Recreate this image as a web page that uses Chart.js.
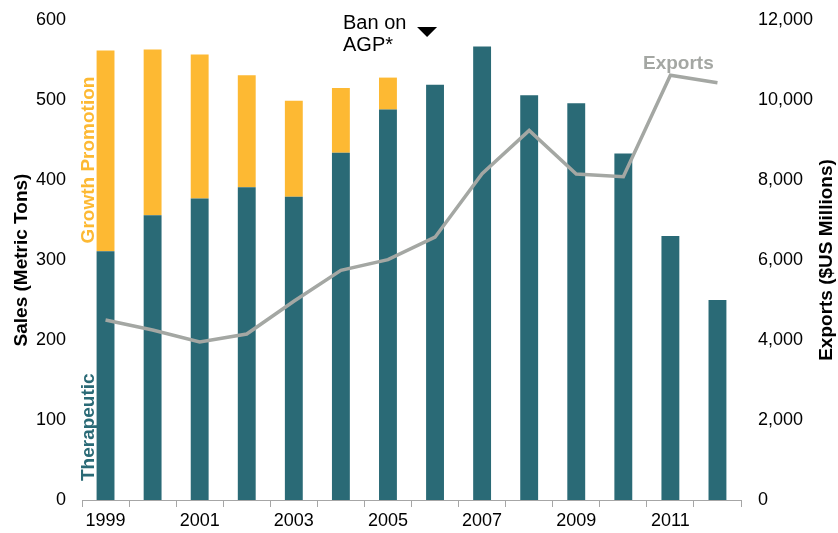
<!DOCTYPE html>
<html>
<head>
<meta charset="utf-8">
<script src="https://cdn.jsdelivr.net/npm/chart.js@4"></script>
<style>
  html, body { margin: 0; padding: 0; background: #ffffff; }
  #wrap { width: 838px; height: 533px; position: relative; }
</style>
</head>
<body>
<div id="wrap"><canvas id="c" width="838" height="533"></canvas></div>
<script>
// ---- data ----
const categories = ['1999','2000','2001','2002','2003','2004','2005','2006','2007','2008','2009','2010','2011','2012'];
const therapeutic = [311, 356, 377, 391, 379, 434, 488, 519, 567, 506, 496, 433, 330, 250];
const growthPromotion = [251, 207, 180, 140, 120, 81, 40, 0, 0, 0, 0, 0, 0, 0];
const exportsUSD = [4500, 4250, 3950, 4150, 4970, 5740, 6010, 6570, 8160, 9240, 8150, 8080, 10620, 10430];
const yearTickLabels = ['1999','2001','2003','2005','2007','2009','2011'];
const salesTicks = [0, 100, 200, 300, 400, 500, 600];
const exportTicks = [0, 2000, 4000, 6000, 8000, 10000, 12000];

const TEAL = '#2A6A76';
const GOLD = '#FDB933';
const GREY = '#A4A7A3';
const FONT = 'Liberation Sans, Arial, Helvetica, sans-serif';

const labelsPlugin = {
  id: 'labelsPlugin',
  afterDraw(chart) {
    const ctx = chart.ctx;
    const xS = chart.scales.x, yS = chart.scales.y, ca = chart.chartArea;
    const midY = (ca.top + ca.bottom) / 2;
    ctx.save();
    ctx.font = 'bold 19px ' + FONT;
    ctx.fillStyle = '#000000';
    ctx.textAlign = 'center';
    ctx.textBaseline = 'alphabetic';
    ctx.save(); ctx.translate(27, midY); ctx.rotate(-Math.PI / 2);
    ctx.fillText('Sales (Metric Tons)', 0, 0); ctx.restore();
    ctx.save(); ctx.translate(832, midY); ctx.rotate(-Math.PI / 2);
    ctx.fillText('Exports ($US Millions)', 0, 0); ctx.restore();

    const lx = xS.getPixelForValue(0) - 12;
    ctx.fillStyle = GOLD;
    ctx.save(); ctx.translate(lx, yS.getPixelForValue(425)); ctx.rotate(-Math.PI / 2);
    ctx.fillText('Growth Promotion', 0, 0); ctx.restore();
    ctx.fillStyle = TEAL;
    ctx.save(); ctx.translate(lx, yS.getPixelForValue(91)); ctx.rotate(-Math.PI / 2);
    ctx.fillText('Therapeutic', 0, 0); ctx.restore();

    ctx.fillStyle = GREY;
    ctx.textAlign = 'center';
    ctx.fillText('Exports', xS.getPixelForValue(12) + 8, 69);

    ctx.fillStyle = '#000000';
    ctx.font = '20px ' + FONT;
    ctx.textAlign = 'left';
    ctx.fillText('Ban on', 343, 29);
    ctx.fillText('AGP*', 343, 51);
    const tx = xS.getPixelForValue(7) - 8;
    ctx.beginPath();
    ctx.moveTo(tx - 10, 27);
    ctx.lineTo(tx + 10, 27);
    ctx.lineTo(tx, 37);
    ctx.closePath();
    ctx.fill();
    ctx.restore();
  }
};

new Chart(document.getElementById('c'), {
  type: 'bar',
  data: {
    labels: categories,
    datasets: [
      { label: 'Therapeutic', data: therapeutic, backgroundColor: TEAL, stack: 's', order: 2,
        categoryPercentage: 1, barPercentage: 0.38, yAxisID: 'y' },
      { label: 'Growth Promotion', data: growthPromotion, backgroundColor: GOLD, stack: 's', order: 2,
        categoryPercentage: 1, barPercentage: 0.38, yAxisID: 'y' },
      { type: 'line', label: 'Exports', data: exportsUSD, borderColor: GREY, borderWidth: 3.5,
        pointRadius: 0, tension: 0, fill: false, yAxisID: 'y1', order: 0 }
    ]
  },
  options: {
    responsive: false,
    devicePixelRatio: 1,
    animation: false,
    layout: { padding: { top: 20, left: 0, right: 0, bottom: 0 } },
    plugins: { legend: { display: false }, tooltip: { enabled: false } },
    scales: {
      x: {
        stacked: true,
        grid: { display: true, drawOnChartArea: false, drawTicks: true, tickLength: 7, color: '#A6A6A6', offset: true },
        border: { display: true, color: '#A6A6A6', width: 1 },
        ticks: {
          autoSkip: false, maxRotation: 0, padding: 3, color: '#000000',
          font: { family: FONT, size: 18 },
          callback: (v, i) => yearTickLabels.includes(categories[i]) ? categories[i] : ''
        },
        afterFit: s => { s.height = 33; s.paddingLeft = 0; s.paddingRight = 0; }
      },
      y: {
        stacked: true, position: 'left', min: 0, max: 600,
        grid: { display: false, drawTicks: false },
        border: { display: false },
        ticks: {
          padding: 16, color: '#000000', font: { family: FONT, size: 18 },
          stepSize: 100,
          callback: v => salesTicks.includes(v) ? String(v) : ''
        },
        afterFit: s => { s.width = 82; s.paddingTop = 0; s.paddingBottom = 0; }
      },
      y1: {
        position: 'right', min: 0, max: 12000,
        grid: { display: false, drawTicks: false },
        border: { display: false },
        ticks: {
          padding: 17, color: '#000000', font: { family: FONT, size: 18 },
          stepSize: 2000,
          callback: v => exportTicks.includes(v) ? v.toLocaleString('en-US') : ''
        },
        afterFit: s => { s.width = 97; s.paddingTop = 0; s.paddingBottom = 0; }
      }
    }
  },
  plugins: [labelsPlugin]
});
</script>
</body>
</html>
